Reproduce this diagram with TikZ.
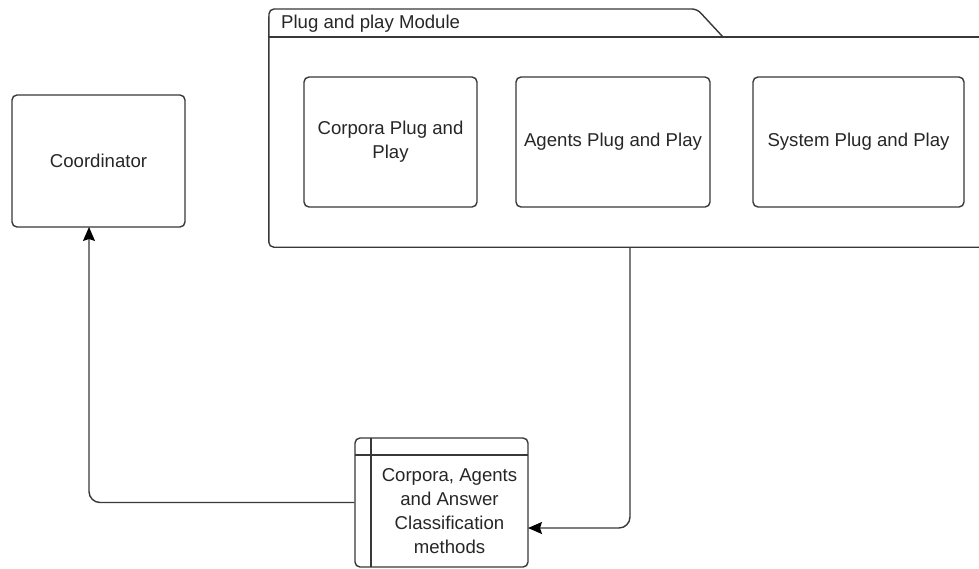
\documentclass[tikz,border=0pt]{standalone}
\usepackage{fontspec}
\setmainfont{Liberation Sans}
\usetikzlibrary{arrows.meta}
\begin{document}
\begin{tikzpicture}[x=1pt,y=-1pt,
  line/.style={draw=black!78, line width=1.4pt},
  box/.style={line, rounded corners=5pt, inner sep=0pt},
  label/.style={font=\fontsize{18.6}{24}\selectfont, text=black!85, align=center, inner sep=0pt},
  conn/.style={line, rounded corners=11pt, -{Stealth[length=14pt,width=12pt,inset=2pt,color=black,fill=black]}}]
\useasboundingbox (0,0) rectangle (979,568);
\clip (0,0) rectangle (979,568);

% Container frame with its tab (runs past the right border)
\node[minimum width=731pt, minimum height=210pt, inner sep=0pt] (module) at (634.5,142) {};
\coordinate (tabtop) at (269,9);
\coordinate (tabbend) at (697,9);
\coordinate (tabfoot) at (723,37);
\draw[line, rounded corners=5pt]
  (module.north west) -- (module.south west) -- (module.south east);
\draw[line, rounded corners=5pt]
  (module.north west) -- (tabtop) -- (tabbend) -- (tabfoot);
\draw[line] (module.north west) -- (module.north east);
\node[label, anchor=base west] (modtitle) at (281,28) {Plug and play Module};

% Plug-in boxes
\node[box, minimum width=173pt, minimum height=130pt] (corpora) at (390.5,142) {};
\node[label] at (corpora.center) {Corpora Plug and\\Play};
\node[box, minimum width=194pt, minimum height=130pt] (agents) at (613,142) {};
\node[label] at (agents.center) {Agents Plug and Play};
\node[box, minimum width=211pt, minimum height=130pt] (system) at (858.5,142) {};
\node[label] at (system.center) {System Plug and Play};

% Coordinator
\node[box, minimum width=173pt, minimum height=132pt] (coord) at (98.5,161) {};
\node[label] at (coord.center) {Coordinator};

% Classification box with header strip and side strip
\node[box, minimum width=173pt, minimum height=129pt] (classbox) at (441.5,502.5) {};
\draw[line] (355,455) -- (528,455);
\draw[line] (371,438) -- (371,567);
\node[label] (classtext) at (449.5,511) {Corpora, Agents\\and Answer\\Classification\\methods};

% Connectors
\coordinate (tap) at (630,247);
\coordinate (coordin) at (89,227);
\coordinate (classin) at (528,528);
\draw[conn] (tap) |- (classin);
\draw[conn] (classbox.west) -| (coordin);
\end{tikzpicture}
\end{document}
